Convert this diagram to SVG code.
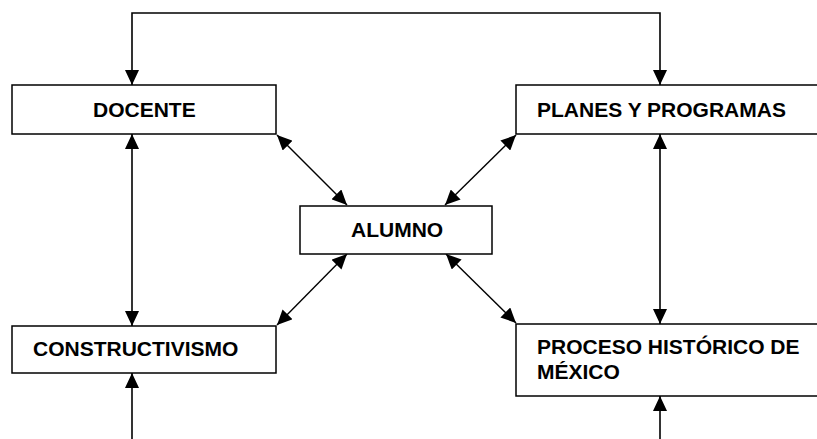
<svg xmlns="http://www.w3.org/2000/svg" width="817" height="439" viewBox="0 0 817 439">
<style>
.box{fill:#fff;stroke:#000;stroke-width:1.5}
.lbl{font-family:"Liberation Sans",Arial,sans-serif;font-weight:bold;font-size:21px;fill:#000}
.con{fill:none;stroke:#000;stroke-width:1.6}
.dia{fill:none;stroke:#000;stroke-width:1.4}
</style>
<defs>
<marker id="ah" viewBox="0 0 15 14" refX="15" refY="7" markerWidth="15" markerHeight="14" markerUnits="userSpaceOnUse" orient="auto-start-reverse">
<path d="M0,0 L15,7 L0,14 z" fill="#000"/>
</marker>
</defs>
<rect width="817" height="439" fill="#fff"/>
<g id="connectors">
<path class="con" d="M132,85 V13 H660 V85" marker-start="url(#ah)" marker-end="url(#ah)"/>
<path class="con" d="M132,134 V326" marker-start="url(#ah)" marker-end="url(#ah)"/>
<path class="con" d="M132,439 V373" marker-end="url(#ah)"/>
<path class="con" d="M660,134 V324" marker-start="url(#ah)" marker-end="url(#ah)"/>
<path class="con" d="M660,439 V396" marker-end="url(#ah)"/>
<path class="dia" d="M277,135 L347,205" marker-start="url(#ah)" marker-end="url(#ah)"/>
<path class="dia" d="M516,135 L445,205" marker-start="url(#ah)" marker-end="url(#ah)"/>
<path class="dia" d="M277,325 L347,254" marker-start="url(#ah)" marker-end="url(#ah)"/>
<path class="dia" d="M516,323 L446,254" marker-start="url(#ah)" marker-end="url(#ah)"/>
</g>
<g id="docente">
<rect class="box" x="12" y="85" width="264" height="49"/>
<text class="lbl" x="93" y="117">DOCENTE</text>
</g>
<g id="planes">
<rect class="box" x="516" y="85" width="320" height="49"/>
<text class="lbl" x="537" y="117">PLANES Y PROGRAMAS</text>
</g>
<g id="alumno">
<rect class="box" x="300" y="206" width="192" height="48"/>
<text class="lbl" x="351" y="237">ALUMNO</text>
</g>
<g id="constructivismo">
<rect class="box" x="12" y="326" width="264" height="47"/>
<text class="lbl" x="33" y="356">CONSTRUCTIVISMO</text>
</g>
<g id="proceso">
<rect class="box" x="516" y="324" width="320" height="72"/>
<text class="lbl" x="537" y="354">PROCESO HISTÓRICO DE</text>
<text class="lbl" x="537" y="379">MÉXICO</text>
</g>
</svg>
